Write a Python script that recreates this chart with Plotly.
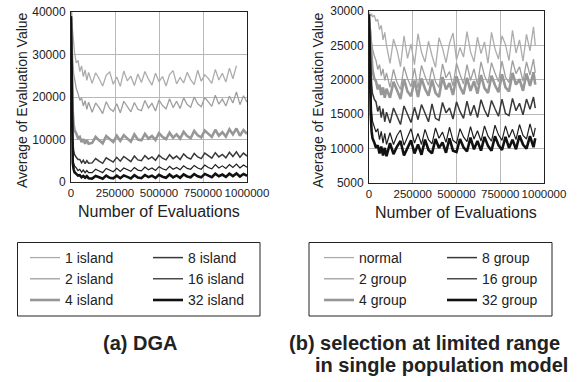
import plotly.graph_objects as go

W, H = 581, 382

# ---------------- data ----------------
x_a = [0, 5000, 10000, 15000, 20000, 30000, 40000, 50000, 60000, 70000, 80000, 90000, 100000,
       120000, 140000, 160000, 180000, 200000, 220000, 240000, 260000, 280000, 300000,
       320000, 340000, 360000, 380000, 400000, 420000, 440000, 460000, 480000, 500000,
       520000, 540000, 560000, 580000, 600000, 620000, 640000, 660000, 680000, 700000,
       720000, 740000, 760000, 780000, 800000, 820000, 840000, 860000, 880000, 900000,
       920000, 940000, 960000, 980000, 1000000]

x_b = [0, 5000, 10000, 15000, 20000, 30000, 40000, 50000, 60000, 70000, 80000, 90000, 100000,
       120000, 140000, 160000, 180000, 200000, 220000, 240000, 260000, 280000, 300000,
       320000, 340000, 360000, 380000, 400000, 420000, 440000, 460000, 480000, 500000,
       520000, 540000, 560000, 580000, 600000, 620000, 640000, 660000, 680000, 700000,
       720000, 740000, 760000, 780000, 800000, 820000, 840000, 860000, 880000, 900000,
       920000, 940000, 950000]

# (a) DGA
island_1 = [40000, 37500, 34000, 31500, 30500, 28000, 28600, 26000, 27300, 24800, 26400, 23900, 25800,
            23200, 25700, 24300, 22600, 25100, 25900, 23000, 24700, 22500, 26100,
            23800, 24900, 22700, 25400, 23400, 26000, 24200, 22800, 25600, 23600,
            24800, 22600, 25300, 26200, 23100, 24600, 23300, 25800, 24100, 22900,
            26300, 23700, 25200, 24400, 23200, 26500, 24000, 25600, 23500, 26800,
            24300, 27400]
island_2 = [40000, 33000, 28500, 25500, 24000, 22000, 20800, 19200, 19800, 17900, 19100, 17100, 18800,
            16400, 18600, 17500, 16100, 18900, 17300, 16600, 18400, 16300, 19000,
            17800, 16500, 18700, 17100, 16800, 19200, 17400, 18500, 16700, 19300,
            18000, 17200, 19600, 17500, 19000, 17300, 19800, 18200, 17600, 20000,
            18400, 17700, 19900, 18900, 17800, 20400, 18300, 19500, 17900, 20200,
            18600, 21200, 18200, 20300, 18800]
island_4 = [40000, 24000, 16500, 13500, 12200, 11400, 10300, 10600, 9400, 10100, 9000, 9900, 9000,
            9200, 10600, 9800, 9100, 10800, 10100, 9400, 10900, 9700, 11000,
            10300, 9500, 11200, 10000, 9800, 11300, 10200, 10800, 9900, 11500,
            10600, 10100, 11600, 10400, 11200, 10200, 11800, 10800, 10300, 12000,
            11000, 10500, 12100, 11300, 10600, 12300, 10900, 11700, 10700, 12400,
            11200, 12600, 10900, 12200, 11300]
island_8 = [39000, 16000, 9500, 7500, 6500, 5800, 5300, 5300, 4500, 5100, 4300, 5000, 4400,
            4500, 5500, 4900, 4400, 5700, 5100, 4700, 5800, 4900, 6000,
            5300, 4800, 6100, 5200, 5000, 6200, 5400, 5900, 5100, 6300,
            5600, 5200, 6400, 5500, 6100, 5300, 6600, 5800, 5400, 6700,
            5900, 5500, 6800, 6100, 5600, 6900, 5900, 6500, 5700, 7000,
            6000, 7100, 5800, 6800, 6100]
island_16 = [38000, 11000, 6000, 4500, 3800, 3300, 2700, 3000, 2300, 2800, 2200, 2700, 2200,
             2200, 3000, 2600, 2200, 3200, 2700, 2400, 3200, 2500, 3300,
             2900, 2500, 3400, 2800, 2600, 3500, 2900, 3300, 2700, 3600,
             3100, 2800, 3700, 3000, 3400, 2900, 3800, 3200, 3000, 3900,
             3300, 3000, 4000, 3400, 3100, 4100, 3300, 3800, 3200, 4100,
             3400, 4200, 3300, 4000, 3500]
island_32 = [39000, 9000, 4500, 3000, 2300, 1900, 1500, 1600, 1100, 1400, 1000, 1400, 900,
             800, 1400, 1100, 750, 1500, 1000, 850, 1500, 900, 1550,
             1200, 850, 1600, 1050, 900, 1650, 1150, 1500, 950, 1700,
             1250, 1000, 1750, 1100, 1550, 1000, 1800, 1300, 1100, 1850,
             1350, 1100, 1900, 1450, 1150, 1950, 1350, 1750, 1200, 1950,
             1400, 2000, 1300, 1900, 1450]

# (b) selection at limited range
group_normal = [29800, 29500, 29300, 29600, 29100, 29400, 28500, 28800, 27300, 27900, 25800, 26900, 25000,
                22400, 25900, 24300, 21900, 26400, 23100, 25200, 22200, 26700, 24000,
                22600, 25600, 23500, 21800, 26100, 24600, 22500, 25300, 26800, 22900,
                24700, 23300, 27000, 24100, 22600, 26200, 23800, 25500, 22400, 26900,
                24500, 23000, 26400, 25100, 22800, 27200, 23900, 25800, 22700, 26600,
                24200, 27700, 25000]
group_2 = [29500, 28500, 27000, 25500, 24500, 23500, 22800, 21500, 22200, 20600, 21600, 19900, 21000,
           18900, 21500, 19600, 18600, 21900, 20200, 19000, 21700, 18800, 22100,
           20500, 19200, 21800, 19700, 18900, 22300, 20300, 21200, 19100, 22400,
           20800, 19400, 22200, 19900, 21600, 19300, 22600, 20600, 19500, 22500,
           21000, 19700, 22700, 20400, 19600, 22800, 20900, 21900, 19800, 22600,
           20700, 23000, 21000]
group_4 = [29000, 27000, 24500, 22800, 21500, 20200, 19800, 18600, 19300, 17800, 18900, 17400, 18700,
           17400, 19700, 18500, 17200, 20100, 18300, 17600, 19900, 17500, 20200,
           18700, 17700, 20000, 18100, 17500, 20400, 18600, 19500, 17800, 20500,
           19000, 17900, 20300, 18400, 19800, 18000, 20700, 18800, 18100, 20600,
           19200, 18200, 20800, 18900, 18300, 21000, 19300, 20100, 18400, 20900,
           19100, 21100, 19300]
group_8 = [29500, 26000, 22000, 19500, 18000, 17200, 16800, 15400, 16200, 14500, 15800, 13900, 15300,
           13700, 15900, 14600, 13500, 16200, 14900, 13800, 16000, 14200, 16400,
           15000, 13900, 16500, 14400, 14100, 16700, 15200, 15900, 14300, 16800,
           15400, 14400, 16900, 14800, 16300, 14500, 17100, 15600, 14600, 17000,
           15800, 14700, 17200, 15100, 14800, 17300, 15500, 16600, 14900, 17200,
           15700, 17500, 15900]
group_16 = [29000, 24000, 18500, 15500, 14000, 13300, 12400, 12900, 11300, 12500, 10800, 12200, 10600,
            12300, 10600, 11900, 12700, 10500, 11600, 12900, 10800, 12200, 10600,
            12800, 11300, 10700, 13000, 11500, 12400, 10900, 13100, 11200, 10800,
            12900, 11700, 11000, 13200, 11400, 12600, 11100, 13300, 11800, 11100,
            13400, 12000, 11200, 13300, 11600, 12800, 11300, 13500, 11900, 11400,
            13600, 11700, 13000]
group_32 = [29500, 21000, 15000, 12500, 11500, 10900, 10100, 10500, 9300, 10300, 9000, 10100, 8900,
            10800, 9200, 10300, 11100, 9000, 10000, 11200, 9300, 10600, 9100,
            11300, 9800, 9300, 11400, 10100, 10900, 9400, 11500, 9700, 9500,
            11400, 10200, 9600, 11600, 9900, 11100, 9700, 11700, 10400, 9700,
            11800, 10500, 9800, 11700, 10100, 11300, 9900, 11900, 10600, 10000,
            11800, 10200, 11500]

names_a = ["1 island", "2 island", "4 island", "8 island", "16 island", "32 island"]
names_b = ["normal", "2 group", "4 group", "8 group", "16 group", "32 group"]

x_ticks = [0, 250000, 500000, 750000, 1000000]
x_tick_text = ["0", "250000", "500000", "750000", "1000000"]
y_ticks_a = [0, 10000, 20000, 30000, 40000]
y_ticks_b = [5000, 10000, 15000, 20000, 25000, 30000]

# ---------------- styling ----------------
colors = ["#acacac", "#9e9e9e", "#979797", "#383838", "#1e1e1e", "#111111"]
widths = [1.3, 1.3, 2.6, 1.5, 1.2, 2.6]
FONT = "Liberation Sans, Arial, Helvetica, sans-serif"
TXT = "#222222"

series_a = [(x_a[:55], island_1), (x_a, island_2), (x_a, island_4),
            (x_a, island_8), (x_a, island_16), (x_a, island_32)]
series_b = [(x_b, group_normal), (x_b, group_2), (x_b, group_4),
            (x_b, group_8), (x_b, group_16), (x_b, group_32)]

fig = go.Figure()
legend_ids_a = ["legend", "legend", "legend", "legend2", "legend2", "legend2"]
legend_ids_b = ["legend3", "legend3", "legend3", "legend4", "legend4", "legend4"]

for i, (xs, ys) in enumerate(series_a):
    fig.add_trace(go.Scatter(x=xs, y=ys, mode="lines", name=names_a[i],
                             line=dict(color=colors[i], width=widths[i]),
                             xaxis="x", yaxis="y", legend=legend_ids_a[i]))
for i, (xs, ys) in enumerate(series_b):
    fig.add_trace(go.Scatter(x=xs, y=ys, mode="lines", name=names_b[i],
                             line=dict(color=colors[i], width=widths[i]),
                             xaxis="x2", yaxis="y2", legend=legend_ids_b[i]))

def px(v):
    return v / W

def py(v):
    return 1 - v / H

axis_common = dict(showline=True, mirror=True, linecolor="#222222", linewidth=1,
                   showgrid=True, gridcolor="#b8b8b8", gridwidth=1, zeroline=False,
                   automargin=False, ticks="", ticklen=0)

xa_style = dict(axis_common, range=[0, 1000000], tickvals=x_ticks, ticktext=x_tick_text,
                tickangle=0, tickfont=dict(size=11.5, family=FONT, color=TXT))

ya_style = dict(axis_common, tickformat="d", ticklabelstandoff=2,
                tickfont=dict(size=12, family=FONT, color=TXT))

def legend_cfg(xpix):
    return dict(x=px(xpix), y=py(242), xanchor="left", yanchor="top", orientation="v",
                font=dict(size=14, family=FONT, color=TXT), bgcolor="rgba(0,0,0,0)",
                borderwidth=0, tracegroupgap=0)

def ann(text, x, y, size, angle=0):
    return dict(text=text, xref="paper", yref="paper", x=px(x), y=py(y),
                xanchor="center", yanchor="middle", showarrow=False, textangle=angle,
                font=dict(size=size, family=FONT, color=TXT))

fig.update_layout(
    width=W, height=H,
    margin=dict(l=0, r=0, t=0, b=0, autoexpand=False),
    paper_bgcolor="white", plot_bgcolor="white",
    font=dict(family=FONT, color=TXT),
    xaxis=dict(xa_style, domain=[px(71), px(247)], anchor="y"),
    yaxis=dict(ya_style, domain=[py(182), py(12)], anchor="x", range=[0, 40000],
               tickvals=y_ticks_a),
    xaxis2=dict(xa_style, domain=[px(369), px(544)], anchor="y2"),
    yaxis2=dict(ya_style, domain=[py(183), py(11)], anchor="x2", range=[5000, 30000],
                tickvals=y_ticks_b),
    legend=legend_cfg(25),
    legend2=legend_cfg(148),
    legend3=legend_cfg(319),
    legend4=legend_cfg(442),
    shapes=[
        dict(type="rect", xref="paper", yref="paper", x0=px(17.5), x1=px(260), y0=py(316), y1=py(242.5),
             line=dict(color="#222222", width=1)),
        dict(type="rect", xref="paper", yref="paper", x0=px(309), x1=px(552), y0=py(316), y1=py(242.5),
             line=dict(color="#222222", width=1)),
    ],
    annotations=[
        ann("Number of Evaluations", 159, 211, 16),
        ann("Number of Evaluations", 456, 212, 16),
        ann("Average of Evaluation Value", 22, 100, 14, -90),
        ann("Average of Evaluation Value", 318, 100, 14, -90),
        ann("<b>(a) DGA</b>", 140, 343, 20),
        ann("<b>(b) selection at limited range</b>", 424, 343, 20),
        ann("<b>in single population model</b>", 441, 365, 20),
    ],
)

fig.write_html("out.html", config={"displayModeBar": False},
               post_script="document.body.style.margin='0';document.body.style.overflow='hidden';")
